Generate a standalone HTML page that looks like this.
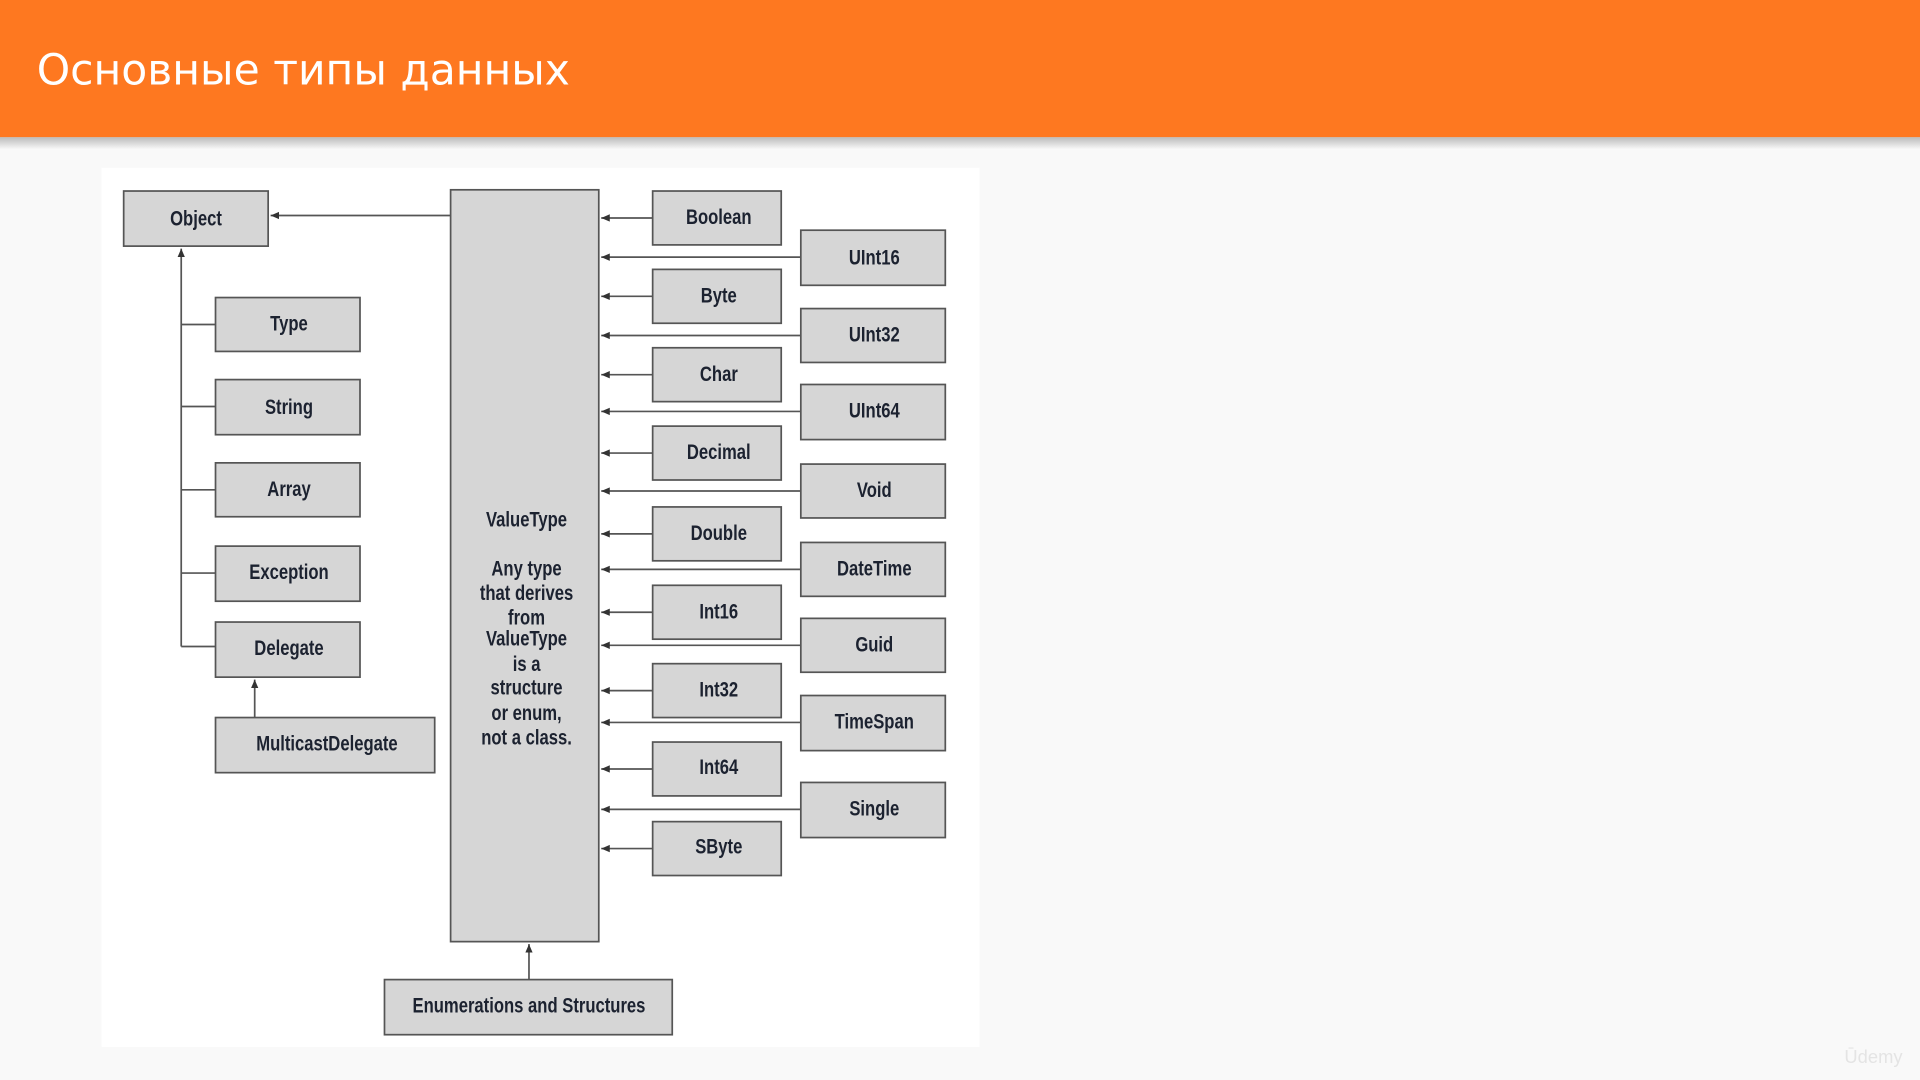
<!DOCTYPE html>
<html><head><meta charset="utf-8"><style>
html,body{margin:0;padding:0;width:1920px;height:1080px;overflow:hidden;background:#f9f9f9}
svg{display:block}
.b{fill:#d6d6d6;stroke:#555;stroke-width:1.4}
.t text,text.t{font-family:"Liberation Sans",sans-serif;font-weight:bold;font-size:17px;fill:#1c2230;text-anchor:middle;transform-box:fill-box;transform-origin:center;transform:scaleX(0.8)}
.l{stroke:#555;stroke-width:1.4;fill:none}
</style></head><body>
<svg width="1920" height="1080" viewBox="0 0 1568 882" xmlns="http://www.w3.org/2000/svg">
<defs>
<linearGradient id="sh" x1="0" y1="0" x2="0" y2="1"><stop offset="0" stop-color="#bbb"/><stop offset="1" stop-color="#f9f9f9"/></linearGradient>
<marker id="a" markerWidth="8" markerHeight="8" refX="7" refY="4" orient="auto" markerUnits="userSpaceOnUse"><path d="M0,4 L7,1 L7,7 z" fill="#333" transform="rotate(180 3.5 4)"/></marker>
</defs>
<rect x="0" y="0" width="1568" height="882" fill="#f9f9f9"/>
<rect x="0" y="112" width="1568" height="10" fill="url(#sh)"/>
<rect x="0" y="0" width="1568" height="112" fill="#fe7820"/>
<text x="30" y="69" font-family="'DejaVu Sans','Liberation Sans',sans-serif" font-size="34.7" fill="#fff">Основные типы данных</text>
<rect x="83" y="137" width="717" height="718" fill="#fff"/>

<rect class="b" x="101" y="156" width="118" height="45"/><text class="t" x="160" y="184">Object</text>
<line class="l" x1="368" y1="176" x2="221" y2="176" marker-end="url(#a)"/>
<line class="l" x1="148" y1="528" x2="148" y2="203" marker-end="url(#a)"/>
<g>
<rect class="b" x="176" y="243" width="118" height="44"/><text class="t" x="236" y="270">Type</text>
<rect class="b" x="176" y="310" width="118" height="45"/><text class="t" x="236" y="338">String</text>
<rect class="b" x="176" y="378" width="118" height="44"/><text class="t" x="236" y="405">Array</text>
<rect class="b" x="176" y="446" width="118" height="45"/><text class="t" x="236" y="473">Exception</text>
<rect class="b" x="176" y="508" width="118" height="45"/><text class="t" x="236" y="535">Delegate</text>
<rect class="b" x="176" y="586" width="179" height="45"/><text class="t" x="267" y="613">MulticastDelegate</text>
</g>
<path class="l" d="M148 265H176M148 332H176M148 400H176M148 468H176M148 528H176"/>
<line class="l" x1="208" y1="586" x2="208" y2="555" marker-end="url(#a)"/>

<rect class="b" x="368" y="155" width="121" height="614"/>
<g class="t">
<text x="430" y="430">ValueType</text>
<text x="430" y="470">Any type</text>
<text x="430" y="490">that derives</text>
<text x="430" y="510">from</text>
<text x="430" y="527">ValueType</text>
<text x="430" y="548">is a</text>
<text x="430" y="567">structure</text>
<text x="430" y="588">or enum,</text>
<text x="430" y="608">not a class.</text>
</g>
<rect class="b" x="314" y="800" width="235" height="45"/><text class="t" x="432" y="827">Enumerations and Structures</text>
<line class="l" x1="432" y1="800" x2="432" y2="771" marker-end="url(#a)"/>

<g>
<rect class="b" x="533" y="156" width="105" height="44"/><text class="t" x="587" y="183">Boolean</text>
<rect class="b" x="533" y="220" width="105" height="44"/><text class="t" x="587" y="247">Byte</text>
<rect class="b" x="533" y="284" width="105" height="44"/><text class="t" x="587" y="311">Char</text>
<rect class="b" x="533" y="348" width="105" height="44"/><text class="t" x="587" y="375">Decimal</text>
<rect class="b" x="533" y="414" width="105" height="44"/><text class="t" x="587" y="441">Double</text>
<rect class="b" x="533" y="478" width="105" height="44"/><text class="t" x="587" y="505">Int16</text>
<rect class="b" x="533" y="542" width="105" height="44"/><text class="t" x="587" y="569">Int32</text>
<rect class="b" x="533" y="606" width="105" height="44"/><text class="t" x="587" y="632">Int64</text>
<rect class="b" x="533" y="671" width="105" height="44"/><text class="t" x="587" y="697">SByte</text>
</g>
<g>
<line class="l" x1="533" y1="178" x2="491" y2="178" marker-end="url(#a)"/>
<line class="l" x1="533" y1="242" x2="491" y2="242" marker-end="url(#a)"/>
<line class="l" x1="533" y1="306" x2="491" y2="306" marker-end="url(#a)"/>
<line class="l" x1="533" y1="370" x2="491" y2="370" marker-end="url(#a)"/>
<line class="l" x1="533" y1="436" x2="491" y2="436" marker-end="url(#a)"/>
<line class="l" x1="533" y1="500" x2="491" y2="500" marker-end="url(#a)"/>
<line class="l" x1="533" y1="564" x2="491" y2="564" marker-end="url(#a)"/>
<line class="l" x1="533" y1="628" x2="491" y2="628" marker-end="url(#a)"/>
<line class="l" x1="533" y1="693" x2="491" y2="693" marker-end="url(#a)"/>
<line class="l" x1="654" y1="210" x2="491" y2="210" marker-end="url(#a)"/>
<line class="l" x1="654" y1="274" x2="491" y2="274" marker-end="url(#a)"/>
<line class="l" x1="654" y1="336" x2="491" y2="336" marker-end="url(#a)"/>
<line class="l" x1="654" y1="401" x2="491" y2="401" marker-end="url(#a)"/>
<line class="l" x1="654" y1="465" x2="491" y2="465" marker-end="url(#a)"/>
<line class="l" x1="654" y1="527" x2="491" y2="527" marker-end="url(#a)"/>
<line class="l" x1="654" y1="590" x2="491" y2="590" marker-end="url(#a)"/>
<line class="l" x1="654" y1="661" x2="491" y2="661" marker-end="url(#a)"/>
</g>
<g>
<rect class="b" x="654" y="188" width="118" height="45"/><text class="t" x="714" y="216">UInt16</text>
<rect class="b" x="654" y="252" width="118" height="44"/><text class="t" x="714" y="279">UInt32</text>
<rect class="b" x="654" y="314" width="118" height="45"/><text class="t" x="714" y="341">UInt64</text>
<rect class="b" x="654" y="379" width="118" height="44"/><text class="t" x="714" y="406">Void</text>
<rect class="b" x="654" y="443" width="118" height="44"/><text class="t" x="714" y="470">DateTime</text>
<rect class="b" x="654" y="505" width="118" height="44"/><text class="t" x="714" y="532">Guid</text>
<rect class="b" x="654" y="568" width="118" height="45"/><text class="t" x="714" y="595">TimeSpan</text>
<rect class="b" x="654" y="639" width="118" height="45"/><text class="t" x="714" y="666">Single</text>
</g>
<text x="1530" y="868" font-family="'Liberation Sans',sans-serif" font-size="15" fill="#e4e4e4" text-anchor="middle">Ūdemy</text>
</svg>
</body></html>
